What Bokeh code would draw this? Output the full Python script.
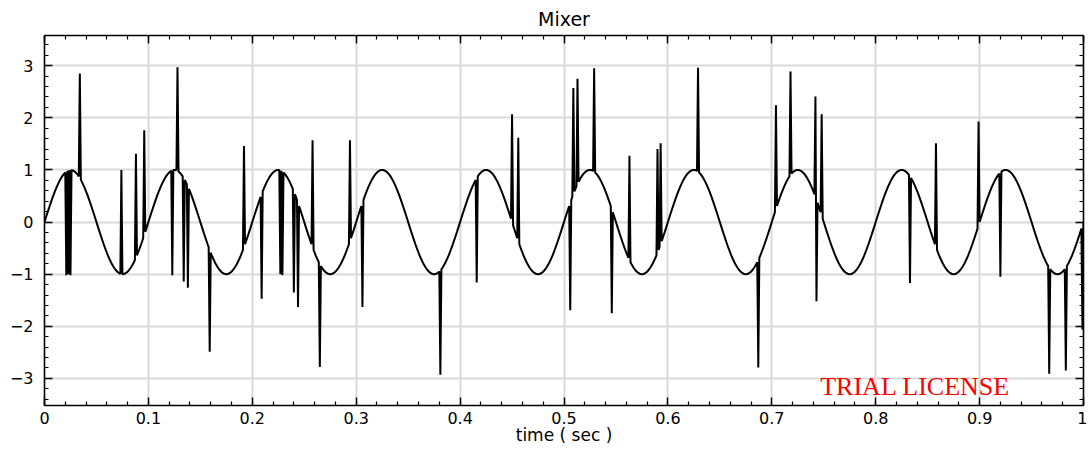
import numpy as np
from bokeh.plotting import figure
from bokeh.models import (LinearAxis, SingleIntervalTicker, Range1d,
                          CustomJSTickFormatter)
from bokeh.core.properties import value
from bokeh.embed import file_html
from bokeh.resources import INLINE

# ---- data -------------------------------------------------------------
title_text = "Mixer"
x_label = "time ( sec )"
watermark = "TRIAL LICENSE"

sample_period = 0.001          # seconds between samples
duration = 1.0                 # seconds
carrier_freq = 10.0            # Hz
carrier_amp = 1.0

# impulse-noise samples (time in s, signal value)
spike_times = [0.021, 0.023, 0.025, 0.034, 0.074, 0.088, 0.096, 0.123,
               0.128, 0.134, 0.138, 0.159, 0.192, 0.209, 0.227, 0.229,
               0.240, 0.244, 0.258, 0.265, 0.294, 0.306, 0.381, 0.416,
               0.450, 0.456, 0.506, 0.509, 0.513, 0.529, 0.546, 0.563,
               0.590, 0.593, 0.629, 0.687, 0.704, 0.718, 0.742, 0.743,
               0.748, 0.833, 0.858, 0.899, 0.920, 0.967, 0.983, 0.999]
spike_values = [-1.02, -1.00, -1.02, 2.85, 1.00, 1.31, 1.76, -1.02,
                2.97, -1.14, -1.26, -2.49, 1.46, -1.47, -1.00, -1.02,
                -1.35, -1.63, 1.57, -2.78, 1.57, -1.63, -2.93, -1.16,
                2.07, 1.62, -1.69, 2.57, 2.75, 2.95, -1.75, 1.27,
                1.40, 1.51, 2.96, -2.79, 2.24, 2.89, 2.41, -1.52,
                2.07, -1.17, 1.51, 1.93, -1.05, -2.91, -2.85, -2.06]

x_ticks_interval = 0.1
y_ticks_interval = 1.0

# ---- series -----------------------------------------------------------
n = int(round(duration / sample_period)) + 1
t = np.arange(n) * sample_period
sig = carrier_amp * np.sin(2 * np.pi * carrier_freq * t)
idx = np.rint(np.array(spike_times) / sample_period).astype(int)
sig[idx] = np.array(spike_values)

# ---- figure -----------------------------------------------------------
FONT = "DejaVu Sans"

p = figure(frame_width=1039, frame_height=370,
           x_range=Range1d(0, 1), y_range=Range1d(-3.52, 3.58),
           output_backend="svg", toolbar_location=None,
           min_border_left=44, min_border_right=4,
           min_border_top=35, min_border_bottom=44,
           background_fill_color="white", border_fill_color="white")
p.outline_line_color = None

p.title.text = title_text
p.title.align = "center"
p.title.text_font = FONT
p.title.text_font_size = "19px"
p.title.text_font_style = "normal"
p.title.text_color = "black"
p.title.standoff = 11

bottom = p.xaxis[0]
left = p.yaxis[0]

bottom.ticker = SingleIntervalTicker(interval=x_ticks_interval, num_minor_ticks=5)
left.ticker = SingleIntervalTicker(interval=y_ticks_interval, num_minor_ticks=5)
bottom.formatter = CustomJSTickFormatter(
    code="return (Math.round(tick*10)/10).toString();")
bottom.axis_label = x_label
bottom.axis_label_text_font = FONT
bottom.axis_label_text_font_size = "17px"
bottom.axis_label_text_font_style = "normal"
bottom.axis_label_text_color = "black"
bottom.axis_label_standoff = -2

blank = "return '';"
top = LinearAxis(ticker=SingleIntervalTicker(interval=x_ticks_interval, num_minor_ticks=5),
                 formatter=CustomJSTickFormatter(code=blank),
                 major_label_standoff=0)
right = LinearAxis(ticker=SingleIntervalTicker(interval=y_ticks_interval, num_minor_ticks=5),
                   formatter=CustomJSTickFormatter(code=blank),
                   major_label_standoff=0)
p.add_layout(top, "above")
p.add_layout(right, "right")

for ax in [bottom, left, top, right]:
    ax.major_tick_in = 8
    ax.major_tick_out = 0
    ax.minor_tick_in = 4
    ax.minor_tick_out = 0
    ax.axis_line_color = "black"
    ax.axis_line_width = 1.6
    ax.major_tick_line_color = "black"
    ax.major_tick_line_width = 1.4
    ax.minor_tick_line_color = "black"
    ax.minor_tick_line_width = 1.2

for ax in [bottom, left]:
    ax.major_label_text_font = FONT
    ax.major_label_text_font_size = "16px"
    ax.major_label_text_color = "black"
bottom.major_label_standoff = 6
left.major_label_standoff = 11

p.xgrid.grid_line_color = "#d9d9d9"
p.xgrid.grid_line_width = 2
p.ygrid.grid_line_color = "#d9d9d9"
p.ygrid.grid_line_width = 2

p.line(t, sig, line_color="black", line_width=2)

p.text(x=[0.838], y=[-3.16], text=[watermark],
       text_font=value("Liberation Serif"), text_font_size="26px",
       text_color="red", text_align="center", text_baseline="middle")

open("out.html", "w").write(file_html(p, INLINE))
